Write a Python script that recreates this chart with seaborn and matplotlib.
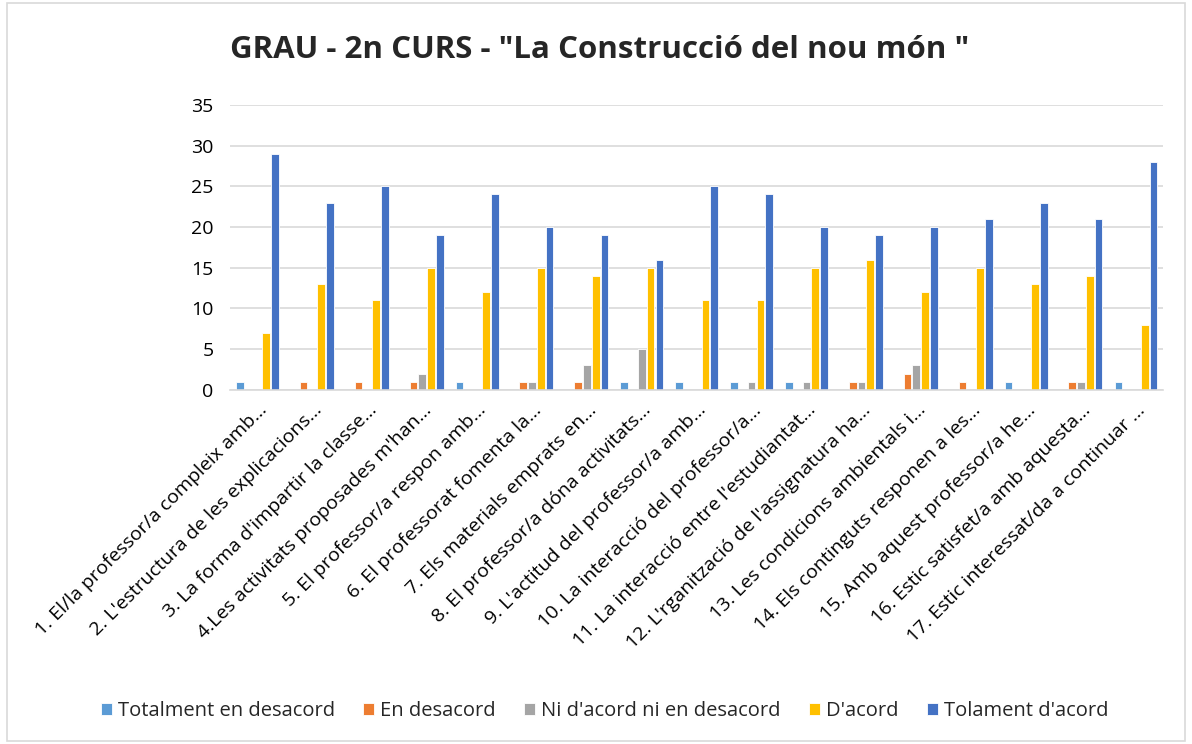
import seaborn as sns
from matplotlib import pyplot as plt
from matplotlib.patches import Rectangle
import pandas as pd

questions = [
    "1. El/la professor/a compleix amb...",
    "2. L'estructura de les explicacions...",
    "3. La forma d'impartir la classe...",
    "4.Les activitats proposades m'han...",
    "5. El professor/a respon amb...",
    "6. El professorat fomenta la...",
    "7. Els materials emprats en...",
    "8. El professor/a dóna activitats...",
    "9. L'actitud del professor/a amb...",
    "10. La interacció del professor/a...",
    "11. La interacció entre l'estudiantat...",
    "12. L'rganització de l'assignatura ha...",
    "13. Les condicions ambientals i...",
    "14. Els continguts responen a les...",
    "15. Amb aquest professor/a he...",
    "16. Estic satisfet/a amb aquesta...",
    "17. Estic interessat/da a continuar ...",
]
levels = ["Totalment en desacord", "En desacord", "Ni d'acord ni en desacord",
          "D'acord", "Tolament d'acord"]

totalment_desacord = [1, 0, 0, 0, 1, 0, 0, 1, 1, 1, 1, 0, 0, 0, 1, 0, 1]
en_desacord = [0, 1, 1, 1, 0, 1, 1, 0, 0, 0, 0, 1, 2, 1, 0, 1, 0]
ni_acord = [0, 0, 0, 2, 0, 1, 3, 5, 0, 1, 1, 1, 3, 0, 0, 1, 0]
d_acord = [7, 13, 11, 15, 12, 15, 14, 15, 11, 11, 15, 16, 12, 15, 13, 14, 8]
totalment_acord = [29, 23, 25, 19, 24, 20, 19, 16, 25, 24, 20, 19, 20, 21, 23, 21, 28]

colors = ["#5b9bd5", "#ed7d31", "#a5a5a5", "#ffc000", "#4472c4"]

series = [totalment_desacord, en_desacord, ni_acord, d_acord, totalment_acord]
rows = []
for level, vals in zip(levels, series):
    for q, v in zip(questions, vals):
        rows.append({"Pregunta": q, "Resposta": level, "Valor": v})
df = pd.DataFrame(rows)

sns.set_style("white")
plt.rcParams['font.family'] = ['Open Sans', 'DejaVu Sans']

fig = plt.figure(figsize=(11.92, 7.44), dpi=100)
ax = fig.add_axes([0.193, 0.476, 0.783, 0.383])

sns.barplot(data=df, x="Pregunta", y="Valor", hue="Resposta",
            hue_order=levels, palette=colors, order=questions,
            width=0.8, gap=0.12, saturation=1, edgecolor="white", linewidth=0.6,
            ax=ax)

ax.set_ylim(0, 35)
ax.set_yticks(range(0, 36, 5))
ax.set_xlim(-0.5, len(questions) - 0.5)
ax.grid(axis='y', color='#d9d9d9', linewidth=1.2)
ax.set_axisbelow(True)
for s in ['top', 'right', 'left']:
    ax.spines[s].set_visible(False)
ax.spines['bottom'].set_color('#d9d9d9')
ax.spines['bottom'].set_linewidth(1.2)
ax.tick_params(axis='both', length=0, labelsize=14, colors='black', pad=8)
ax.tick_params(axis='y', pad=12)
ax.set_xticks(range(len(questions)))
ax.set_xticklabels(questions, rotation=45, ha='right', rotation_mode='anchor')
ax.set(xlabel=None, ylabel=None)

ax.legend(loc='center', bbox_to_anchor=(0.507, 0.044), bbox_transform=fig.transFigure,
          ncol=5, frameon=False, fontsize=14.5, handlelength=0.55, handleheight=0.55,
          handletextpad=0.3, columnspacing=1.4)

fig.text(0.503, 0.933, "GRAU - 2n CURS - \"La Construcció del nou món \"",
         ha='center', va='center', fontsize=22.5, fontweight='bold')

fig.patches.append(Rectangle((0.006, 0.004), 0.988, 0.992, transform=fig.transFigure,
                             fill=False, edgecolor='#d9d9d9', linewidth=1.2))

plt.savefig('out.png', dpi=100)
